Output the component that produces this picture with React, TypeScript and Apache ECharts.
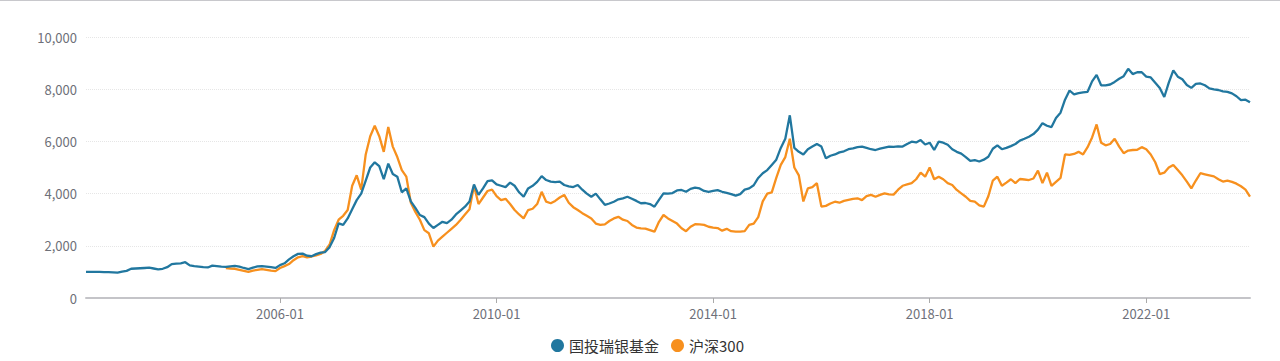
import React, { useEffect, useRef } from "react";
import * as echarts from "echarts";

// Monthly points from 2002-06 to 2023-12
const startYear = 2002;
const startMonth = 6;
const monthCount = 259;

const seriesNames = ["国投瑞银基金", "沪深300"];
const yTicks = [0, 2000, 4000, 6000, 8000, 10000];
const xTickLabels = ["2006-01", "2010-01", "2014-01", "2018-01", "2022-01"];

const fundValues = [
  1000, 1000, 1000, 1000, 995, 990, 985, 970, 1010, 1040,
  1120, 1130, 1140, 1150, 1160, 1130, 1100, 1120, 1180, 1300,
  1320, 1330, 1370, 1250, 1220, 1200, 1180, 1170, 1240, 1220,
  1200, 1190, 1210, 1230, 1200, 1150, 1110, 1160, 1210, 1220,
  1200, 1180, 1150, 1260, 1330, 1480, 1600, 1690, 1700, 1620,
  1600, 1680, 1735, 1760, 1950, 2300, 2860, 2800, 3050, 3400,
  3750, 4000, 4500, 5000, 5200, 5050, 4550, 5150, 4750, 4650,
  4050, 4200, 3700, 3450, 3180, 3100, 2850, 2680, 2800, 2920,
  2870, 3000, 3200, 3350, 3500, 3700, 4350, 3950, 4200, 4480,
  4510, 4350, 4300, 4250, 4420, 4300, 4050, 3880, 4200, 4300,
  4450, 4670, 4520, 4460, 4440, 4460, 4330, 4280, 4250, 4330,
  4150, 4000, 3880, 4000, 3780, 3570, 3620, 3690, 3780, 3820,
  3880, 3800, 3720, 3630, 3640, 3600, 3500, 3760, 4010, 4000,
  4020, 4120, 4140, 4070, 4180, 4230, 4200, 4100, 4070, 4100,
  4130, 4070, 4030, 3980, 3920, 3980, 4150, 4200, 4320, 4600,
  4780, 4900, 5100, 5300, 5750, 6100, 7000, 5750, 5600, 5500,
  5700, 5800, 5900, 5800, 5350, 5450, 5500, 5580, 5620, 5700,
  5730, 5780, 5800, 5750, 5700, 5670, 5720, 5760, 5800, 5790,
  5810, 5800, 5900, 5990, 5960, 6050, 5880, 5950, 5670, 5990,
  5950, 5870, 5700, 5600, 5530, 5400, 5250, 5280, 5230, 5300,
  5410, 5720, 5850, 5700, 5750, 5820, 5900, 6030, 6100, 6180,
  6280, 6450, 6700, 6600, 6550, 6900, 7100, 7600, 7950, 7800,
  7850, 7880, 7900, 8300, 8550, 8150, 8150, 8180, 8280, 8400,
  8500, 8780, 8580, 8650, 8650, 8480, 8450, 8250, 8050, 7700,
  8250, 8720, 8480, 8380, 8160, 8050, 8200, 8220, 8150, 8030,
  7990, 7970, 7920, 7900, 7840, 7730, 7580, 7600, 7500,
];

// 沪深300 begins in 2005-01 (index 31)
const hs300StartIndex = 31;
const hs300Values = [
  1150, 1130, 1120, 1080, 1040, 1000, 1050, 1080, 1110, 1080,
  1050, 1030, 1150, 1220, 1300, 1450, 1560, 1600, 1560, 1590,
  1630, 1685, 1800, 2050, 2600, 3000, 3150, 3370, 4300, 4700,
  4150, 5500, 6200, 6600, 6200, 5600, 6550, 5800, 5400, 4900,
  4650, 3650, 3300, 3000, 2600, 2480, 1970, 2200, 2350, 2500,
  2650, 2800, 2990, 3200, 3400, 4300, 3600, 3850, 4100, 4150,
  3900, 3750, 3800, 3600, 3370, 3200, 3050, 3370, 3420, 3600,
  4070, 3690, 3630, 3720, 3850, 3950, 3650, 3480, 3370, 3250,
  3150, 3050, 2850, 2800, 2820, 2950, 3050, 3110, 3000, 2950,
  2800, 2700, 2670, 2660, 2600, 2540, 2920, 3180, 3050, 2950,
  2850, 2670, 2560, 2730, 2830, 2820, 2800, 2730, 2700, 2680,
  2580, 2650, 2560, 2540, 2540, 2560, 2800, 2850, 3100, 3700,
  4000, 4050, 4600, 5100, 5400, 6100, 5000, 4700, 3700, 4200,
  4250, 4400, 3500, 3530, 3620, 3690, 3650, 3720, 3760, 3800,
  3820, 3750, 3900, 3950, 3880, 3950, 4010, 3970, 3960, 4150,
  4300, 4350, 4400, 4550, 4800, 4650, 5000, 4550, 4650, 4550,
  4400, 4330, 4140, 4010, 3880, 3720, 3690, 3550, 3500, 3900,
  4500, 4650, 4300, 4420, 4550, 4400, 4560, 4540, 4520, 4580,
  4880, 4400, 4800, 4300, 4450, 4600, 5500, 5480, 5520, 5600,
  5500, 5780, 6150, 6650, 5950, 5850, 5900, 6100, 5800, 5550,
  5650, 5670, 5680, 5780, 5700, 5500, 5200, 4750, 4800, 5000,
  5100, 4900, 4700, 4460, 4200, 4500, 4780, 4740, 4700, 4660,
  4550, 4460, 4500, 4450, 4380, 4280, 4150, 3880,
];

const BLUE = "#21779f";
const ORANGE = "#f7901e";

function buildMonths(): string[] {
  const out: string[] = [];
  let y = startYear;
  let m = startMonth;
  for (let i = 0; i < monthCount; i++) {
    out.push(`${y}-${String(m).padStart(2, "0")}`);
    m++;
    if (m > 12) {
      m = 1;
      y++;
    }
  }
  return out;
}

export default function App() {
  const ref = useRef<HTMLDivElement>(null);

  useEffect(() => {
    document.body.style.margin = "0";
    if (!ref.current) return;
    const chart = echarts.init(ref.current, null, { renderer: "svg" });
    const months = buildMonths();
    const hs300Full: (number | null)[] = months.map((_, i) =>
      i >= hs300StartIndex ? hs300Values[i - hs300StartIndex] ?? null : null
    );
    const showLabel = (_idx: number, val: string) => xTickLabels.includes(val);

    chart.setOption({
      animation: false,
      backgroundColor: "#ffffff",
      graphic: [
        {
          type: "rect",
          left: 0,
          top: 0,
          shape: { x: 0, y: 0, width: 1280, height: 1 },
          style: { fill: "#c8c8cc" },
          silent: true,
        },
      ],
      grid: { left: 86, right: 30, top: 37, bottom: 63 },
      legend: {
        data: seriesNames,
        top: 333,
        left: 546,
        icon: "circle",
        itemWidth: 13,
        itemHeight: 13,
        itemGap: 12,
        textStyle: {
          color: "#333",
          fontSize: 15,
          fontFamily: "'Microsoft YaHei', 'Noto Sans CJK SC', sans-serif",
        },
      },
      xAxis: {
        type: "category",
        data: months,
        boundaryGap: false,
        axisLine: { lineStyle: { color: "#c4c4c8", width: 2 } },
        axisTick: {
          show: true,
          interval: showLabel,
          length: 5,
          lineStyle: { color: "#aaa", width: 1 },
        },
        axisLabel: {
          interval: showLabel,
          color: "#6e7079",
          fontSize: 13,
          margin: 9,
          fontFamily: "'Microsoft YaHei', 'Noto Sans CJK SC', sans-serif",
        },
        splitLine: { show: false },
      },
      yAxis: {
        type: "value",
        min: yTicks[0],
        max: yTicks[yTicks.length - 1],
        interval: 2000,
        axisLine: { show: false },
        axisTick: { show: false },
        axisLabel: {
          color: "#6e7079",
          fontSize: 13,
          margin: 9,
          fontFamily: "'Microsoft YaHei', 'Noto Sans CJK SC', sans-serif",
          formatter: (v: number) => v.toLocaleString("en-US"),
        },
        splitLine: { lineStyle: { color: "#e6e6e6", type: "dotted", width: 1 } },
      },
      series: [
        {
          name: seriesNames[1],
          type: "line",
          data: hs300Full,
          showSymbol: false,
          symbol: "circle",
          lineStyle: { color: ORANGE, width: 2.3 },
          itemStyle: { color: ORANGE },
          connectNulls: false,
        },
        {
          name: seriesNames[0],
          type: "line",
          data: fundValues,
          showSymbol: false,
          symbol: "circle",
          lineStyle: { color: BLUE, width: 2.3 },
          itemStyle: { color: BLUE },
        },
      ],
    });
    return () => chart.dispose();
  }, []);

  return <div ref={ref} style={{ width: 1280, height: 361 }} />;
}
